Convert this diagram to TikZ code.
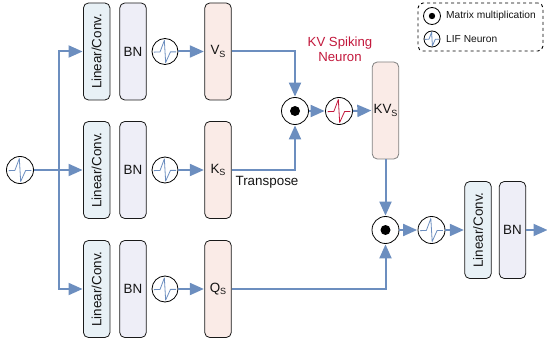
\documentclass[tikz,border=0pt]{standalone}
\usepackage{fontspec}
\setmainfont{Liberation Sans}
\usetikzlibrary{arrows.meta}
\definecolor{flow}{HTML}{6C8EBF}
\definecolor{spk}{HTML}{C2183C}
\definecolor{linfill}{HTML}{E8F1F6}
\definecolor{bnfill}{HTML}{EEEEF7}
\definecolor{sfill}{HTML}{FAEBE7}
\newcommand{\subS}[1]{#1\raisebox{-2.5pt}{\fontsize{9}{9}\selectfont S}}
\newcommand{\lintext}{\rotatebox{90}{Linear/Conv.}}
\tikzset{
  every node/.style={font=\fontsize{13.4}{15}\selectfont, text=black!92},
  block/.style={draw=black!90, line width=0.8pt, rounded corners=5pt, minimum width=26.5pt, minimum height=97pt, inner sep=0pt},
  linbox/.style={block, fill=linfill},
  bnbox/.style={block, fill=bnfill},
  sbox/.style={block, fill=sfill},
  flowline/.style={draw=flow, line width=2pt, -{Triangle[length=14pt,width=12pt]}, shorten >=0.5pt},
  lif/.style 2 args={circle, draw=black, line width=0.8pt, fill=white, minimum size=2*#2 pt, inner sep=0pt,
    path picture={\draw[draw=#1, line width=0.8pt, line join=round, x=#2 pt, y=-#2 pt, shift={(path picture bounding box.center)}]
      (-0.85,0.05) -- (-0.38,0.03) -- (-0.05,-0.85) -- (0.05,0.85) -- (0.42,0.03) -- (0.85,0.03);}},
  mul/.style 2 args={circle, draw=black, line width=0.8pt, fill=white, minimum size=2*#1 pt, inner sep=0pt,
    path picture={\fill[black] (path picture bounding box.center) circle (#2 pt);}},
}
\begin{document}
\begin{tikzpicture}[x=1pt,y=-1pt]
\useasboundingbox (0,0) rectangle (547,345);
% first row
\node[linbox] (l1) at (96.7,51.5) {\lintext};
\node[bnbox] (b1) at (133,51.5) {BN};
\node[lif={flow}{13}] (n1) at (165,51.5) {};
\node[sbox] (v) at (218,51.5) {\subS{V}};
% second row
\node[linbox] (l2) at (96.7,170) {\lintext};
\node[bnbox] (b2) at (133,170) {BN};
\node[lif={flow}{13}] (n2) at (165,170) {};
\node[sbox] (k) at (218,170) {\subS{K}};
% third row
\node[linbox] (l3) at (96.7,289) {\lintext};
\node[bnbox] (b3) at (133,289) {BN};
\node[lif={flow}{13}] (n3) at (165,289) {};
\node[sbox] (q) at (218,289) {\subS{Q}};
% input
\node[lif={flow}{13.5}] (in) at (20,170) {};
\coordinate (trunk) at (58.5,170);
% KV part
\node[mul={13.5}{5}] (m1) at (295,111) {};
\node[lif={spk}{13.5}] (n4) at (339,111) {};
\node[sbox, draw=black!50] (kv) at (385.5,110.5) {\subS{KV}};
\node[text=spk, align=center, font=\fontsize{13.2}{15.5}\selectfont] (kvl) at (340,49.5) {KV Spiking\\Neuron};
\node (tr) at (267,182) {Transpose};
% lower right
\node[mul={13.5}{5}] (m2) at (385.5,230) {};
\node[lif={flow}{13.5}] (n5) at (431.5,230) {};
\node[linbox] (l4) at (478,230) {\lintext};
\node[bnbox] (b4) at (512.5,230) {BN};
\coordinate (out) at (548,230);
% connectors
\draw[flowline] (in.east) -- (l2.west);
\draw[flowline] (trunk) |- (l1.west);
\draw[flowline] (trunk) |- (l3.west);
\draw[flowline] (n1.east) -- (v.west);
\draw[flowline] (n2.east) -- (k.west);
\draw[flowline] (n3.east) -- (q.west);
\draw[flowline] (v.east) -| (m1.north);
\draw[flowline] (k.east) -| (m1.south);
\draw[flowline] (m1.east) -- (n4.west);
\draw[flowline] (n4.east) -- (kv.west);
\draw[flowline] (kv.south) -- (m2.north);
\draw[flowline] (q.east) -| (m2.south);
\draw[flowline] (m2.east) -- (n5.west);
\draw[flowline] (n5.east) -- (l4.west);
\draw[flowline] (b4.east) -- (out);
% legend
\node[draw=black, dashed, line width=0.9pt, rounded corners=5pt, minimum width=125pt, minimum height=48pt, inner sep=0pt] (leg) at (480.5,27) {};
\node[mul={8.5}{3.2}] (lm) at (432,16) {};
\node[lif={flow}{8}] (ln) at (432,39) {};
\node[anchor=west, inner sep=0pt, font=\fontsize{10.2}{12}\selectfont] (lmt) at (446,16) {Matrix multiplication};
\node[anchor=west, inner sep=0pt, font=\fontsize{10.2}{12}\selectfont] (lnt) at (446,39.5) {LIF Neuron};
\end{tikzpicture}
\end{document}
